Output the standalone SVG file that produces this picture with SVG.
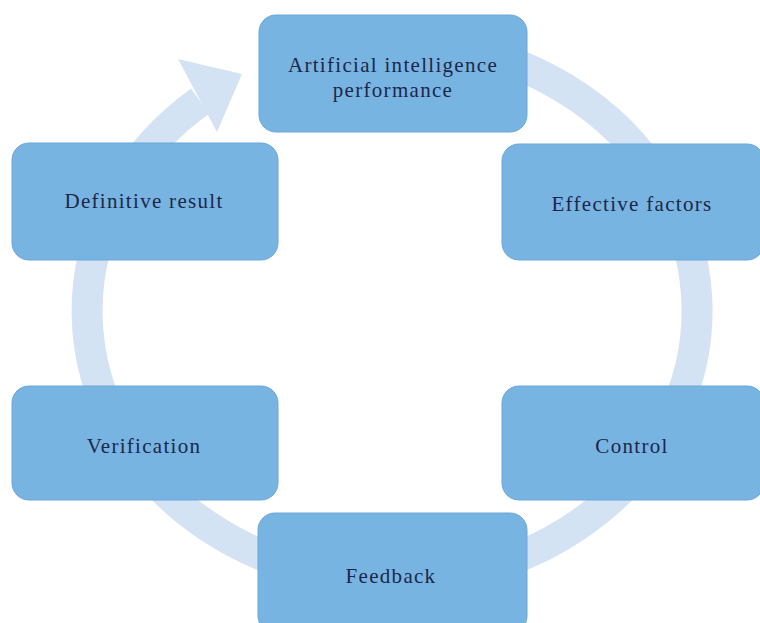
<svg xmlns="http://www.w3.org/2000/svg" width="760" height="623" viewBox="0 0 760 623">
<defs>
<style>
.node rect{fill:#78b4e2;stroke:#6ba6d8;stroke-width:1}
.node text{font-family:"Liberation Serif","Times New Roman",serif;font-size:21px;fill:#1c2748;text-anchor:middle;letter-spacing:1.3px}
.ring{fill:none;stroke:#d4e3f3;stroke-width:31}
.head{fill:#d4e3f3}
</style>
</defs>
<rect width="760" height="623" fill="#ffffff"/>
<g id="connectors">
<path class="ring" d="M445,45.1 A305,270 0 1 1 200.1,101.2"/>
<polygon class="head" points="178,59 242,74 217,132"/>
</g>
<g id="node-ai" class="node">
<rect x="259" y="15" width="268" height="117" rx="17"/>
<text x="393" y="72">Artificial intelligence</text>
<text x="393" y="97">performance</text>
</g>
<g id="node-effective" class="node">
<rect x="502" y="144" width="262" height="116" rx="17"/>
<text x="632" y="211">Effective factors</text>
</g>
<g id="node-control" class="node">
<rect x="502" y="386" width="262" height="114" rx="17"/>
<text x="632" y="453">Control</text>
</g>
<g id="node-feedback" class="node">
<rect x="258" y="513" width="269" height="120" rx="17"/>
<text x="391" y="583">Feedback</text>
</g>
<g id="node-verification" class="node">
<rect x="12" y="386" width="266" height="114" rx="17"/>
<text x="144" y="453">Verification</text>
</g>
<g id="node-definitive" class="node">
<rect x="12" y="143" width="266" height="117" rx="17"/>
<text x="144" y="208">Definitive result</text>
</g>
</svg>
